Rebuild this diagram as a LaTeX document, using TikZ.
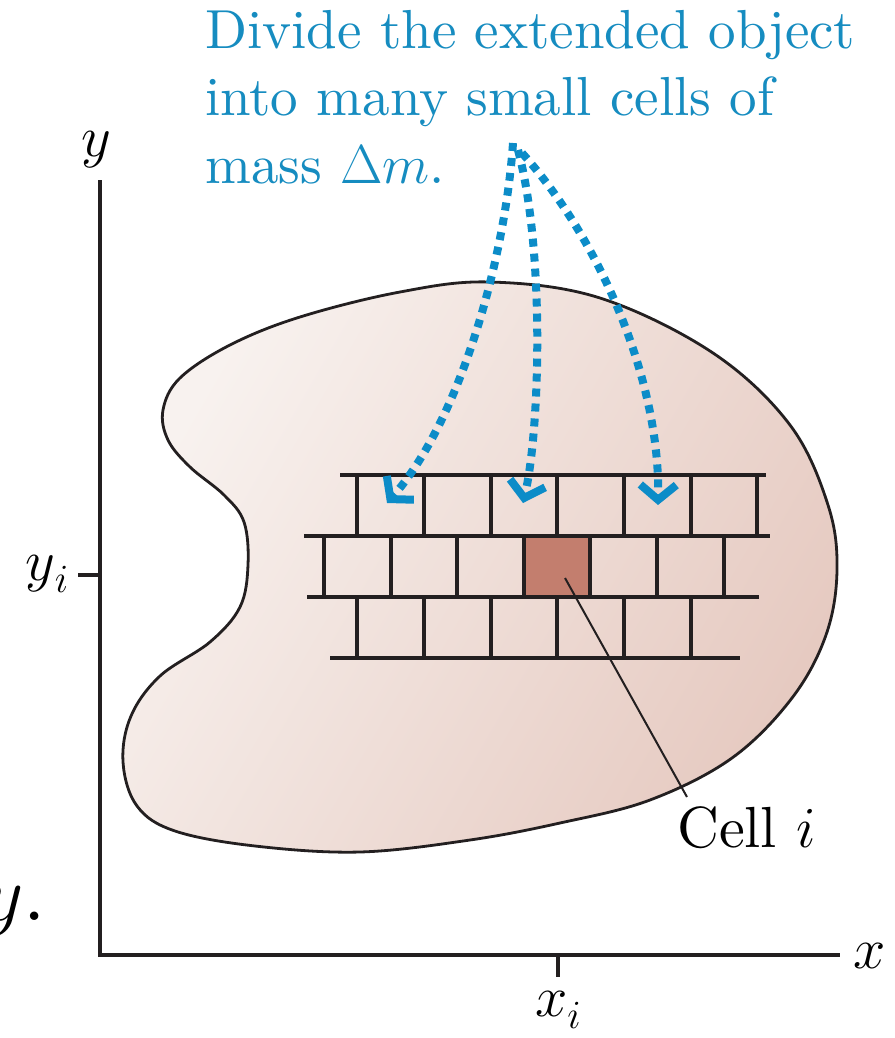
\RequirePackage{fix-cm}
\documentclass[tikz,border=0pt]{standalone}
\usepackage{fontspec}
\setmainfont{lmroman10-regular.otf}[ItalicFont=lmroman10-italic.otf]
\usetikzlibrary{arrows.meta}
\definecolor{ink}{RGB}{35,31,32}
\definecolor{bluetxt}{RGB}{22,140,192}
\definecolor{bluearr}{RGB}{12,140,200}
\definecolor{blobA}{RGB}{248,242,239}
\definecolor{blobB}{RGB}{230,202,193}
\definecolor{cellred}{RGB}{195,126,110}
\newcommand\mysubi{\raisebox{-0.22em}{\fontsize{40}{40}\selectfont$i$}}
\tikzset{
  lbl/.style={inner sep=0pt, font=\fontsize{58}{66}\selectfont, text=black},
  axisline/.style={draw=ink, line width=3.2pt},
  gridline/.style={draw=ink, line width=3.2pt},
  dotarrow/.style={draw=bluearr, line width=8pt, dash pattern=on 8pt off 7pt,
     -{Straight Barb[length=15pt,width=36pt,line width=8pt]}},
  leader/.style={draw=ink, line width=2pt},
}
\begin{document}
\begin{tikzpicture}[x=1pt,y=-1pt]
\useasboundingbox (0,0) rectangle (894,1038);
% object
\shade[left color=blobA, right color=blobB, shading angle=60]
  plot[smooth cycle, tension=0.6] coordinates {
  (490,282) (600,298) (713,353) (790,425) (828,505) (837,570) (826,635)
  (792,698) (732,758) (650,800) (560,823) (470,840) (360,852) (255,846)
  (175,831) (137,806) (123,762) (131,716) (160,676) (210,642) (240,607)
  (248,565) (244,522) (224,495) (190,467) (168,440) (163,410) (180,378)
  (230,345) (300,317) (400,292)};
\draw[ink, line width=2.8pt]
  plot[smooth cycle, tension=0.6] coordinates {
  (490,282) (600,298) (713,353) (790,425) (828,505) (837,570) (826,635)
  (792,698) (732,758) (650,800) (560,823) (470,840) (360,852) (255,846)
  (175,831) (137,806) (123,762) (131,716) (160,676) (210,642) (240,607)
  (248,565) (244,522) (224,495) (190,467) (168,440) (163,410) (180,378)
  (230,345) (300,317) (400,292)};
% cell i
\fill[cellred] (524,536) rectangle (590,597);
% grid
\draw[gridline] (340,475) -- (766,475);
\draw[gridline] (304,536) -- (770,536);
\draw[gridline] (307,597) -- (759,597);
\draw[gridline] (330,658) -- (740,658);
\foreach \x in {357,424,491,557,624,691,757} \draw[gridline] (\x,475) -- (\x,536);
\foreach \x in {324,391,457,524,590,657,724} \draw[gridline] (\x,536) -- (\x,597);
\foreach \x in {357,424,491,557,624,691} \draw[gridline] (\x,597) -- (\x,658);
% axes
\coordinate (ytop) at (100,180);
\coordinate (O) at (100,955);
\coordinate (xend) at (840,955);
\draw[axisline] (ytop) -- (O) -- (xend);
\coordinate (ytick) at (78,575);
\coordinate (ytickb) at (100,575);
\draw[axisline] (ytick) -- (ytickb);
\coordinate (xtick) at (558,955);
\coordinate (xtickb) at (558,977);
\draw[axisline] (xtick) -- (xtickb);
\node[lbl, anchor=base] (ylab) at (96,156) {$y$};
\node[lbl, anchor=base west] (xlab) at (853,968) {$x$};
\node[lbl, anchor=base west] (yilab) at (25,580) {$y$\mysubi};
\node[lbl, anchor=base west] (xilab) at (535,1016) {$x$\mysubi};
% cell i label
\coordinate (cellc) at (565,578);
\node[lbl, anchor=base west] (celllab) at (677,847) {Cell $i$};
\coordinate (cellend) at (687,797);
\draw[leader] (cellc) -- (cellend);
% caption
\node[lbl, text=bluetxt, anchor=north west, align=left,
      font=\fontsize{55}{67.5}\selectfont] (caption) at (205,10)
  {Divide the extended object\\into many small cells of\\mass $\Delta m$.};
% dotted arrows
\coordinate (s1) at (513,143);
\coordinate (s2) at (518,150);
\coordinate (s3) at (522,153);
\coordinate (e1) at (387,503);
\coordinate (e2) at (523,503);
\coordinate (e3) at (658,505);
\draw[dotarrow] (s1) .. controls (505,260) and (460,420) .. (e1);
\draw[dotarrow] (s2) .. controls (545,250) and (540,430) .. (e2);
\draw[dotarrow] (s3) .. controls (600,240) and (660,380) .. (e3);
% cut-off fragment at left
\node[lbl, anchor=base east, font=\fontsize{80}{80}\selectfont] (frag) at (46,920) {$y$.};
\end{tikzpicture}
\end{document}
